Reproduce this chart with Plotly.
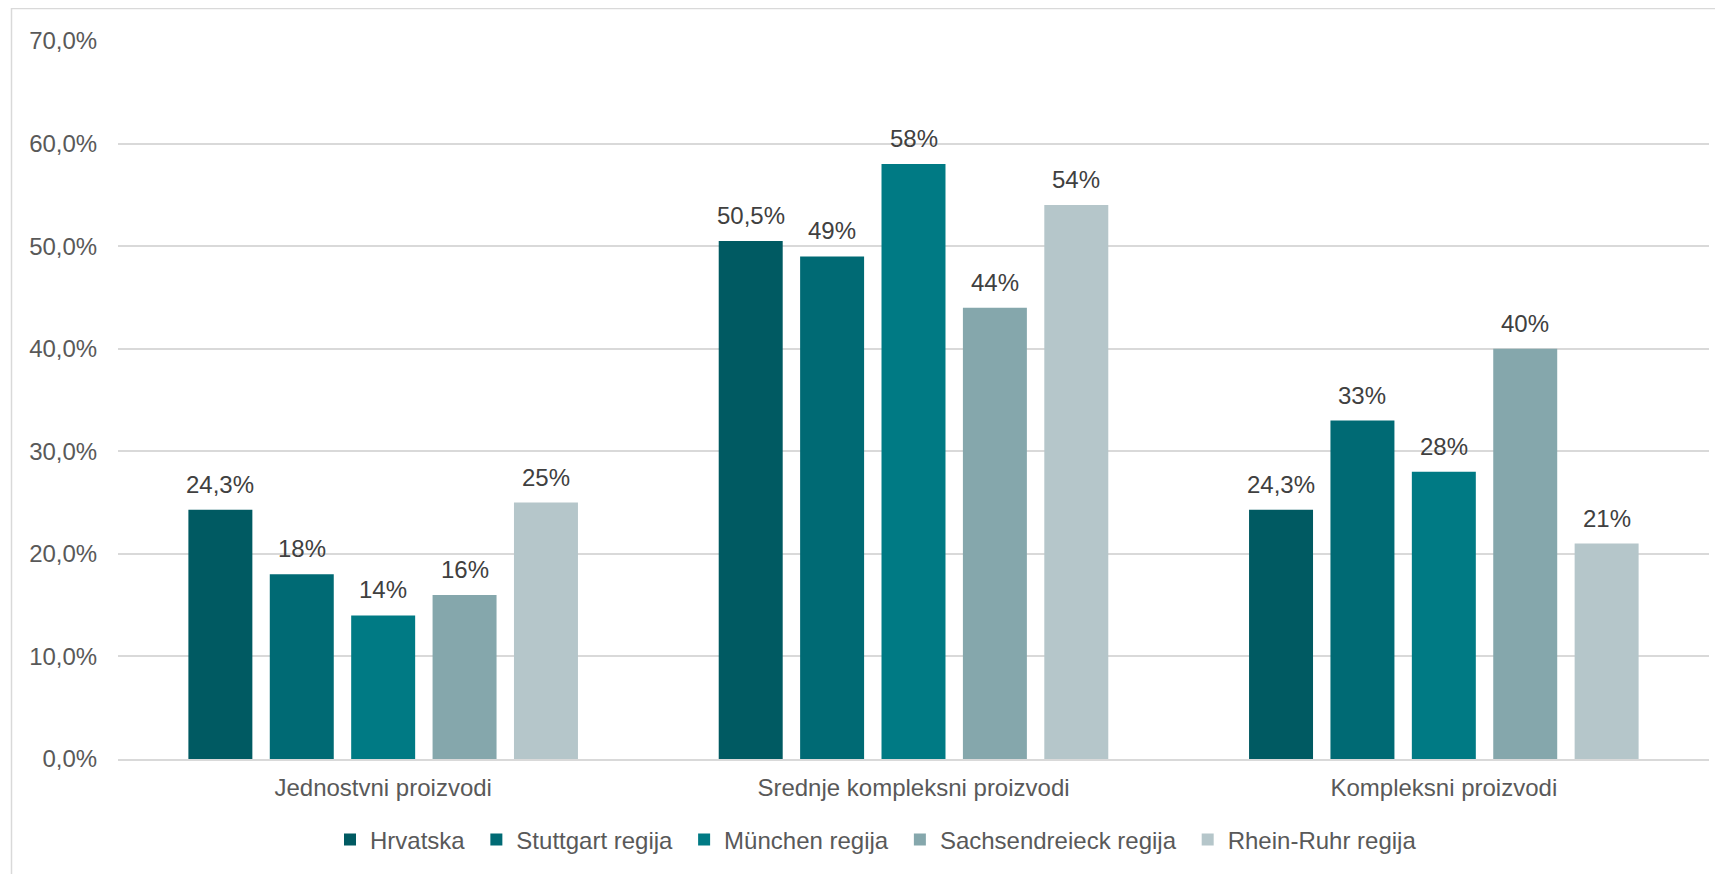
import plotly.graph_objects as go

categories = ["Jednostvni proizvodi", "Srednje kompleksni proizvodi", "Kompleksni proizvodi"]
series_names = ["Hrvatska", "Stuttgart regija", "München regija", "Sachsendreieck regija", "Rhein-Ruhr regija"]
hrvatska = [24.3, 50.5, 24.3]
stuttgart = [18, 49, 33]
muenchen = [14, 58, 28]
sachsen = [16, 44, 40]
rhein = [25, 54, 21]
hrvatska_labels = ["24,3%", "50,5%", "24,3%"]
stuttgart_labels = ["18%", "49%", "33%"]
muenchen_labels = ["14%", "58%", "28%"]
sachsen_labels = ["16%", "44%", "40%"]
rhein_labels = ["25%", "54%", "21%"]
y_tick_vals = [0, 10, 20, 30, 40, 50, 60, 70]
y_tick_text = ["0,0%", "10,0%", "20,0%", "30,0%", "40,0%", "50,0%", "60,0%", "70,0%"]

colors = ["#005A62", "#006A74", "#007A84", "#85A7AC", "#B5C6CA"]
values = [hrvatska, stuttgart, muenchen, sachsen, rhein]
labels = [hrvatska_labels, stuttgart_labels, muenchen_labels, sachsen_labels, rhein_labels]

FONT = "Liberation Sans, Arial, sans-serif"
FS = 24

# page body has an 8px margin; figure sized to fit the window
W, H = 1715, 866
L, R, T, B = 110, 14, 33, 113
pw, ph = W - L - R, H - T - B
BARGAP, GROUPGAP = 0.2326, 0.214

fig = go.Figure()
for name, vals, col in zip(series_names, values, colors):
    fig.add_trace(go.Bar(
        name=name + "\u00a0", x=categories, y=vals,
        marker=dict(color=col, line=dict(width=0)),
    ))

# data labels, positioned via the axes (category + value) with pixel offsets derived from layout
cat_px = pw / len(categories)
slot_px = (1 - BARGAP) * cat_px / len(series_names)
annotations = []
for i, (vals, labs) in enumerate(zip(values, labels)):
    for cat, v, lab in zip(categories, vals, labs):
        annotations.append(dict(
            x=cat, y=v, xref="x", yref="y", text=lab, showarrow=False,
            xanchor="center", yanchor="bottom",
            xshift=(i - (len(series_names) - 1) / 2) * slot_px, yshift=10,
            font=dict(family=FONT, size=FS, color="#404040"),
        ))

def px(x):
    return (x - L) / pw

def py(y):
    return (H - B - y) / ph

fig.update_layout(
    width=W, height=H,
    margin=dict(l=L, r=R, t=T, b=B),
    paper_bgcolor="white", plot_bgcolor="white",
    barmode="group", bargap=BARGAP, bargroupgap=GROUPGAP,
    font=dict(family=FONT, size=FS, color="#595959"),
    showlegend=True,
    legend=dict(orientation="h", x=px(871), xanchor="center", y=py(834), yanchor="middle",
                font=dict(family=FONT, size=FS, color="#595959"),
                itemwidth=30, traceorder="normal"),
    xaxis=dict(showgrid=False, showline=True, linecolor="#D9D9D9", linewidth=1.5,
               ticks="outside", ticklen=6, tickcolor="rgba(0,0,0,0)",
               tickfont=dict(family=FONT, size=FS, color="#595959")),
    yaxis=dict(range=[0, 70], tickvals=y_tick_vals, ticktext=y_tick_text,
               showgrid=True, gridcolor="#D9D9D9", gridwidth=1.5, zeroline=False,
               showline=False, ticks="outside", ticklen=15, tickcolor="rgba(0,0,0,0)",
               tickfont=dict(family=FONT, size=FS, color="#595959")),
    annotations=annotations,
    shapes=[dict(type="rect", xref="paper", yref="paper",
                 x0=px(3.5), x1=px(1720), y0=py(880), y1=py(0.5),
                 line=dict(color="#D9D9D9", width=1.5), fillcolor="rgba(0,0,0,0)", layer="below")],
)

fig.write_html("out.html")
